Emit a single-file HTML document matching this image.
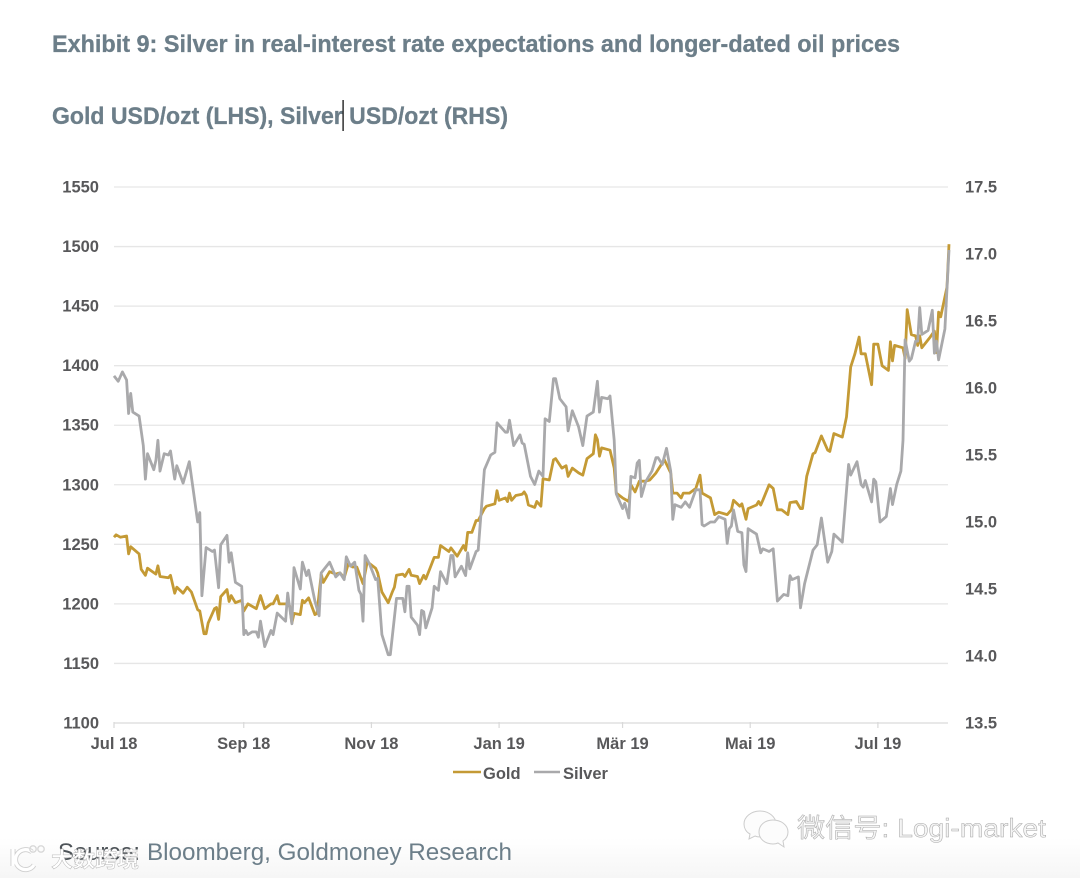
<!DOCTYPE html>
<html lang="en">
<head>
<meta charset="utf-8">
<title>Exhibit 9: Silver and Gold</title>
<style>
html,body{margin:0;padding:0;background:#fff;width:1080px;height:878px;overflow:hidden}
svg{display:block}
.hd{font-family:"Liberation Sans",sans-serif;font-weight:700;font-size:24px;fill:#6c7e89;stroke:#6c7e89;stroke-width:0.3}
.tk{font-family:"Liberation Sans",sans-serif;font-weight:700;font-size:16.5px;fill:#58585a}
.src{font-family:"Liberation Sans",sans-serif;font-size:24px;fill:#6c7e89}
.wm{font-family:"Liberation Sans","Noto Sans CJK SC",sans-serif}
</style>
</head>
<body>
<svg id="chart" xmlns="http://www.w3.org/2000/svg" width="1080" height="878" viewBox="0 0 1080 878">
  <defs>
    <linearGradient id="fade" x1="0" y1="0" x2="0" y2="1">
      <stop offset="0" stop-color="#ffffff"/>
      <stop offset="1" stop-color="#f6f6f6"/>
    </linearGradient>
    <filter id="soft" x="-2%" y="-2%" width="104%" height="104%"><feGaussianBlur stdDeviation="0.35"/></filter>
  </defs>
  <rect x="0" y="0" width="1080" height="878" fill="#ffffff"/>
  <rect x="0" y="838" width="1080" height="40" fill="url(#fade)"/>
  <text class="hd" x="52" y="52" textLength="848" lengthAdjust="spacingAndGlyphs">Exhibit 9: Silver in real-interest rate expectations and longer-dated oil prices</text>
  <text class="hd" x="52" y="124" textLength="456" lengthAdjust="spacingAndGlyphs">Gold USD/ozt (LHS), Silver USD/ozt (RHS)</text>
  <rect x="342.4" y="100" width="1.4" height="31" fill="#222"/>
  <g id="grid"></g>
  <g id="xaxis"></g>
  <g id="yleft"></g>
  <g id="yright"></g>
  <g id="series" filter="url(#soft)"></g>
  <g>
    <line x1="453" y1="772" x2="481" y2="772" stroke="#c49a35" stroke-width="2.6"/>
    <text class="tk" x="483" y="779">Gold</text>
    <line x1="534" y1="772" x2="560" y2="772" stroke="#a9a9ab" stroke-width="2.6"/>
    <text class="tk" x="563" y="779">Silver</text>
  </g>
  <text class="src" x="58" y="860" textLength="82" lengthAdjust="spacingAndGlyphs" style="fill:#4d5358">Source:</text>
  <text class="src" x="147" y="860" textLength="365" lengthAdjust="spacingAndGlyphs">Bloomberg, Goldmoney Research</text>
  <g>
    <path d="M13 849v17M32 852a10 10 0 1 0 2 13" fill="none" stroke="#cfcfcf" stroke-width="5"/>
    <path d="M13 849v17M32 852a10 10 0 1 0 2 13" fill="none" stroke="#fff" stroke-width="3.2"/>
    <circle cx="33" cy="849" r="3.2" fill="none" stroke="#d8d8d8" stroke-width="1.4"/>
    <circle cx="41" cy="849" r="3.2" fill="none" stroke="#d8d8d8" stroke-width="1.4"/>
    <text class="wm" x="51" y="867" font-size="21" font-weight="700" fill="#ffffff" stroke="#b8b8b8" stroke-width="0.5" textLength="88" lengthAdjust="spacingAndGlyphs">大数跨境</text>
  </g>
  <g>
    <g fill="#fcfcfc" stroke="#cccccc" stroke-width="1">
      <path d="M760 811c-9 0-16 6-16 13 0 4 2 8 6 10l-1 5 6-3c2 1 4 1 5 1 9 0 16-6 16-13s-7-13-16-13z"/>
      <path d="M773 820c-8 0-14 5-14 12s6 12 14 12c2 0 3 0 5-1l6 4-1-6c3-2 5-5 5-9 0-7-7-12-15-12z"/>
    </g>
    <text class="wm" x="797" y="837" font-size="26" fill="#f4f4f4" stroke="#a8a8a8" stroke-width="0.5" textLength="249" lengthAdjust="spacingAndGlyphs">微信号: Logi-market</text>
  </g>
</svg>
<script>
const goldTicks = [1100, 1150, 1200, 1250, 1300, 1350, 1400, 1450, 1500, 1550];
const silverTicks = ["13.5", "14.0", "14.5", "15.0", "15.5", "16.0", "16.5", "17.0", "17.5"];
const dateTickDays = [0, 62, 123, 184, 243, 304, 365];
const dateTickLabels = ["Jul 18", "Sep 18", "Nov 18", "Jan 19", "Mär 19", "Mai 19", "Jul 19"];

const goldDays = [0,1,3,6,7,8,12,13,15,16,20,21,22,26,27,29,30,33,35,37,40,41,43,44,45,48,49,50,51,54,55,56,58,61,62,64,68,70,72,75,76,78,79,82,84,85,86,89,90,91,93,96,97,99,100,103,106,108,110,112,114,116,119,121,122,125,126,128,131,133,134,135,138,139,141,142,145,146,148,149,151,153,155,156,160,161,164,167,168,169,171,173,174,177,178,182,183,184,187,188,189,190,192,195,196,197,198,201,202,204,205,208,210,211,214,216,217,219,222,224,226,229,230,231,232,233,237,239,240,243,246,247,249,251,254,256,259,263,266,267,269,271,272,275,278,280,281,285,287,289,293,295,296,299,300,302,303,307,308,309,310,313,315,317,319,322,323,326,328,329,331,334,335,338,341,342,344,348,350,352,354,356,357,359,362,363,365,367,370,371,372,373,377,378,379,381,383,384,385,386,390,392,393,394,395,398,399];
const goldValues = [1256,1258,1256,1257,1242,1248,1242,1229,1224,1230,1225,1232,1223,1222,1224,1209,1214,1209,1214,1210,1195,1194,1175,1175,1184,1196,1197,1187,1206,1212,1202,1207,1201,1203,1194,1200,1196,1207,1196,1200,1200,1207,1200,1200,1198,1184,1192,1191,1203,1201,1205,1191,1192,1225,1218,1227,1225,1226,1222,1234,1231,1231,1217,1235,1234,1230,1226,1210,1201,1210,1214,1224,1225,1223,1229,1224,1223,1217,1224,1221,1230,1239,1239,1249,1244,1247,1240,1249,1245,1260,1260,1270,1270,1280,1282,1284,1295,1287,1289,1286,1293,1287,1291,1292,1294,1291,1283,1281,1286,1282,1305,1304,1321,1322,1314,1316,1307,1314,1310,1308,1322,1326,1342,1338,1324,1331,1329,1314,1293,1289,1286,1300,1294,1303,1303,1304,1310,1321,1310,1293,1293,1289,1293,1293,1297,1308,1293,1289,1275,1277,1275,1279,1287,1282,1284,1271,1280,1283,1286,1283,1287,1300,1297,1279,1279,1275,1285,1286,1280,1280,1307,1326,1327,1341,1329,1328,1343,1340,1357,1399,1410,1424,1410,1410,1384,1418,1418,1400,1396,1420,1404,1417,1415,1406,1447,1426,1425,1417,1425,1415,1424,1429,1411,1445,1441,1466,1502];

const silverDays = [0,2,4,6,7,8,9,12,14,15,16,19,20,21,22,24,26,27,29,30,33,36,40,41,42,44,47,48,50,51,54,55,56,58,61,62,63,64,66,68,69,70,72,75,76,78,82,83,85,86,89,90,92,93,96,98,99,103,106,108,110,111,113,115,117,118,119,120,122,125,126,128,131,132,135,138,139,140,141,142,145,146,147,148,149,152,153,155,156,159,161,162,163,166,168,169,170,173,174,177,180,182,183,187,188,189,191,194,195,196,199,201,203,205,206,208,210,211,213,216,217,219,222,224,226,229,231,232,233,236,237,239,240,243,244,246,247,249,250,251,252,254,257,259,260,262,264,266,267,268,271,273,275,278,280,281,282,285,287,289,292,293,294,295,296,298,300,301,302,303,305,307,309,310,313,315,317,320,322,323,324,327,328,330,334,336,338,341,343,344,348,351,352,355,357,358,359,362,363,364,366,369,371,372,374,376,377,378,380,381,383,384,385,386,389,391,392,393,394,397,399];
const silverValues = [16.09,16.05,16.12,16.06,15.81,15.96,15.82,15.79,15.57,15.32,15.51,15.39,15.46,15.61,15.38,15.51,15.50,15.53,15.32,15.42,15.29,15.45,15.00,15.07,14.45,14.81,14.78,14.79,14.51,14.83,14.90,14.70,14.77,14.55,14.52,14.16,14.19,14.16,14.18,14.18,14.14,14.26,14.07,14.19,14.16,14.32,14.26,14.47,14.24,14.66,14.50,14.70,14.60,14.64,14.41,14.30,14.62,14.70,14.59,14.62,14.57,14.74,14.67,14.70,14.49,14.46,14.26,14.75,14.69,14.57,14.58,14.16,14.01,14.01,14.43,14.43,14.33,14.52,14.52,14.29,14.23,14.16,14.34,14.33,14.21,14.36,14.52,14.49,14.63,14.54,14.75,14.75,14.59,14.67,14.60,14.77,14.65,14.78,14.79,15.39,15.50,15.52,15.74,15.67,15.67,15.76,15.57,15.65,15.59,15.58,15.34,15.28,15.38,15.34,15.77,15.75,16.07,16.07,15.92,15.86,15.68,15.83,15.71,15.57,15.79,15.82,16.05,15.82,15.93,15.92,15.94,15.61,15.21,15.10,15.14,15.03,15.34,15.33,15.44,15.46,15.19,15.30,15.38,15.48,15.48,15.43,15.55,15.38,15.02,15.13,15.11,15.15,15.11,15.24,15.24,14.98,14.97,15.00,15.00,15.04,15.02,14.84,14.95,14.97,15.09,14.93,14.92,14.68,14.63,14.95,14.93,14.91,14.77,14.80,14.78,14.80,14.41,14.46,14.45,14.60,14.57,14.59,14.36,14.54,14.79,14.83,15.03,14.70,14.78,14.91,14.85,15.43,15.35,15.45,15.28,15.26,15.31,15.15,15.32,15.30,15.00,15.04,15.25,15.13,15.28,15.38,15.61,16.36,16.20,16.22,16.35,16.35,16.60,16.40,16.43,16.58,16.26,16.35,16.21,16.44,17.03];

const NS = "http://www.w3.org/2000/svg";
const plotLeft = 114, plotRight = 948, plotTop = 187, plotBottom = 723;
const dayMax = 398.5;
const goldMin = 1100, goldMax = 1550;
const silverMin = 13.5, silverMax = 17.5;

function xScale(day) { return plotLeft + (day / dayMax) * (plotRight - plotLeft); }
function yGold(v) { return plotBottom - (v - goldMin) / (goldMax - goldMin) * (plotBottom - plotTop); }
function ySilver(v) { return plotBottom - (v - silverMin) / (silverMax - silverMin) * (plotBottom - plotTop); }

function mk(tag, attrs, parent, txt) {
  const el = document.createElementNS(NS, tag);
  for (const k in attrs) el.setAttribute(k, attrs[k]);
  if (txt !== undefined) el.textContent = txt;
  parent.appendChild(el);
  return el;
}

const grid = document.getElementById("grid");
const yleft = document.getElementById("yleft");
const yright = document.getElementById("yright");
const xaxis = document.getElementById("xaxis");
const series = document.getElementById("series");

goldTicks.forEach(function (t) {
  const y = yGold(t);
  const line = mk("line", {x1: plotLeft, x2: plotRight, y1: y, y2: y, stroke: t === goldMin ? "#d9d9d9" : "#e6e6e6", "stroke-width": 1.3}, grid);
  
  
  const label = mk("text", {"class": "tk", x: 99, y: y + 5.5, "text-anchor": "end"}, yleft, String(t));
  
  
});

silverTicks.forEach(function (t) {
  const y = ySilver(parseFloat(t));
  const label = mk("text", {"class": "tk", x: 965, y: y + 5.5}, yright, t);
  
  
});

dateTickDays.forEach(function (d, i) {
  const x = xScale(d);
  const tick = mk("line", {x1: x, x2: x, y1: plotBottom - 1, y2: plotBottom + 5, stroke: "#d9d9d9", "stroke-width": 1.2}, xaxis);
  
  
  const label = mk("text", {"class": "tk", x: x, y: 749, "text-anchor": "middle"}, xaxis, dateTickLabels[i]);
  
  
});

function pathFrom(days, values, yFn) {
  return days.map(function (d, i) {
    return (i ? "L" : "M") + xScale(d).toFixed(1) + " " + yFn(values[i]).toFixed(1);
  }).join("");
}

const goldPath = mk("path", {d: pathFrom(goldDays, goldValues, yGold), fill: "none", stroke: "#c49a35", "stroke-width": 2.8, "stroke-linejoin": "round"}, series);



const silverPath = mk("path", {d: pathFrom(silverDays, silverValues, ySilver), fill: "none", stroke: "#a9a9ab", "stroke-width": 2.8, "stroke-linejoin": "round"}, series);


</script>
</body>
</html>
